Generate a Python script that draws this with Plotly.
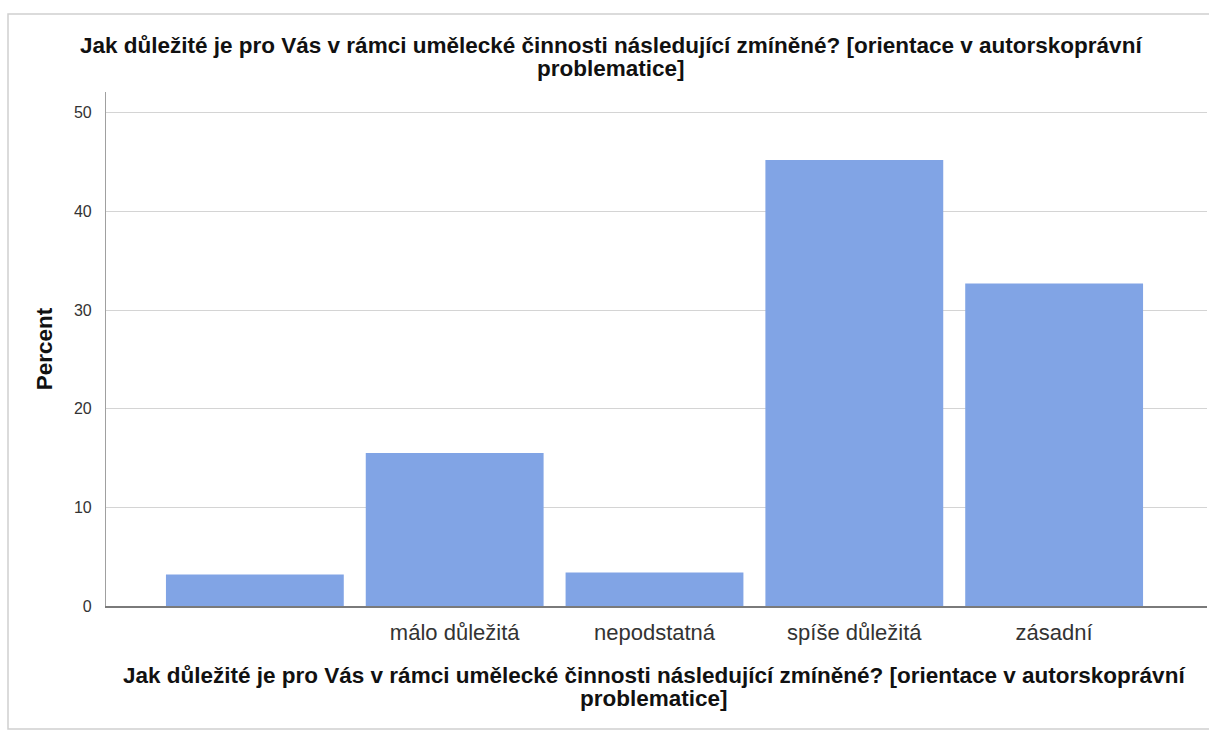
import plotly.graph_objects as go

categories = ["", "málo důležitá", "nepodstatná", "spíše důležitá", "zásadní"]
percent = [3.2, 15.5, 3.4, 45.2, 32.7]
y_ticks = [0, 10, 20, 30, 40, 50]
title_line1 = "Jak důležité je pro Vás v rámci umělecké činnosti následující zmíněné? [orientace v autorskoprávní"
title_line2 = "problematice]"

W, H = 1209, 733
L, R, T, B = 106, 2, 92, 127
PW, PH = W - L - R, H - T - B


def px_x(x):
    return (x - L) / PW


def px_y(y):
    return 1 - (y - T) / PH


fig = go.Figure()
fig.add_trace(go.Bar(
    x=list(range(len(categories))), y=percent,
    marker=dict(color="#81A4E5", line=dict(width=0)),
    width=0.89,
))

font = "Liberation Sans, Arial, sans-serif"
tfont = dict(size=22.5, color="#111", family=font)
annotations = []
for text, x, y in [(title_line1, 611, 45.5), (title_line2, 611, 69),
                   (title_line1, 654, 675), (title_line2, 654, 698.5)]:
    annotations.append(dict(text="<b>" + text + "</b>", xref="paper", yref="paper",
                            x=px_x(x), y=px_y(y), xanchor="center", yanchor="middle",
                            showarrow=False, font=tfont))

fig.update_layout(
    width=W, height=H,
    margin=dict(l=L, r=R, t=T, b=B),
    paper_bgcolor="white", plot_bgcolor="white",
    showlegend=False,
    font=dict(family=font, color="#222"),
    xaxis=dict(
        tickmode="array", tickvals=list(range(len(categories))), ticktext=categories,
        range=[-0.745, 4.765], showgrid=False, zeroline=False,
        showline=True, linecolor="#7a7a7a", linewidth=1.5,
        ticks="", tickfont=dict(size=22, color="#333"), ticklabelstandoff=6,
    ),
    yaxis=dict(
        range=[0, 52.1], tickmode="array", tickvals=y_ticks,
        showgrid=True, gridcolor="#d4d4d4", gridwidth=1.2,
        zeroline=False, showline=True, linecolor="#a0a0a0", linewidth=1.2,
        ticks="", tickfont=dict(size=16, color="#333"), ticklabelstandoff=10,
        title=dict(text="<b>Percent</b>", font=dict(size=22.5, color="#111"), standoff=15),
    ),
    annotations=annotations,
    shapes=[
        dict(type="rect", xref="paper", yref="paper",
             x0=px_x(8), x1=px_x(1240),
             y0=px_y(729), y1=px_y(14),
             line=dict(color="#d0d0d0", width=1.5), layer="below"),
    ],
)

fig.write_html("out.html", config={"displayModeBar": False},
               post_script="document.body.style.margin='0';document.body.style.overflow='hidden';")
